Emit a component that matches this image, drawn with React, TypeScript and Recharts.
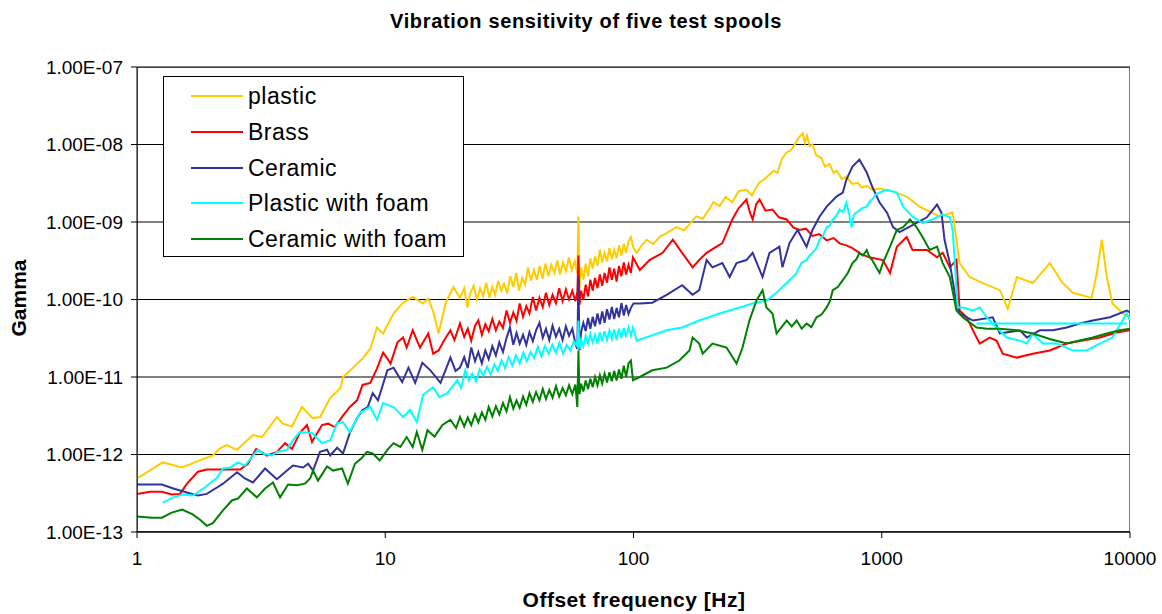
import { CartesianGrid, Line, LineChart, XAxis, YAxis } from "recharts";

// [frequency Hz, gamma]
const plastic: [number, number][] = [
  [1, 4.9e-13], [1.27, 7.9e-13], [1.52, 6.8e-13], [1.79, 8.4e-13], [2.02, 9.7e-13], [2.16, 1.2e-12],
  [2.3, 1.32e-12], [2.53, 1.15e-12], [2.93, 1.78e-12], [3.19, 1.68e-12], [3.66, 3.05e-12], [3.87, 2.5e-12],
  [4.21, 2.3e-12], [4.62, 4.1e-12], [5.1, 2.95e-12], [5.46, 3.05e-12], [6.0, 5.35e-12], [6.6, 7.2e-12],
  [6.76, 1.0e-11], [7.2, 1.2e-11], [8.1, 1.73e-11], [8.7, 2.3e-11], [9.26, 4.35e-11], [9.8, 3.64e-11],
  [10.8, 6.6e-11], [11.8, 9.1e-11], [12.9, 1.08e-10], [14.2, 8.9e-11], [14.9, 1.03e-10], [15.6, 7e-11],
  [16.4, 3.64e-11], [17.5, 9e-11], [18.8, 1.45e-10], [20, 1.05e-10], [20.8, 1.4e-10], [21.4, 7.9e-11],
  [22, 1.2e-10], [22.7, 1.5e-10], [23.4, 1.0e-10], [24.1, 1.4e-10], [24.8, 1.1e-10], [25.5, 1.65e-10],
  [26.3, 1.05e-10], [27, 1.45e-10], [27.7, 1.15e-10], [28.5, 1.75e-10], [29.3, 1.3e-10], [30.1, 1.6e-10],
  [31, 1.2e-10], [31.9, 2.0e-10], [32.8, 1.45e-10], [33.7, 2.2e-10], [34.6, 1.3e-10], [35.6, 1.9e-10],
  [36.6, 1.55e-10], [37.6, 2.6e-10], [38.6, 1.75e-10], [39.7, 2.4e-10], [40.8, 1.8e-10], [41.9, 2.7e-10],
  [43, 1.85e-10], [44.2, 2.9e-10], [45.4, 2.0e-10], [46.7, 2.8e-10], [48, 2.2e-10], [49.3, 3.2e-10],
  [50.6, 2.1e-10], [52, 3.0e-10], [53.4, 2.3e-10], [54.9, 3.5e-10], [56.4, 2.4e-10], [58, 3.1e-10],
  [59.4, 2.2e-10], [60, 1.18e-9], [60.6, 1.4e-10], [61.5, 2.6e-10], [62.8, 1.8e-10], [64.2, 2.9e-10],
  [65.6, 2.0e-10], [67, 3.4e-10], [68.5, 2.5e-10], [70, 3.6e-10], [71.6, 2.7e-10], [73.2, 4.4e-10],
  [74.8, 3.0e-10], [76.5, 4.0e-10], [78.2, 3.1e-10], [80, 4.6e-10], [81.8, 3.3e-10], [83.6, 4.4e-10],
  [85.5, 3.4e-10], [87.4, 5.0e-10], [89.4, 3.7e-10], [91.4, 5.2e-10], [93.4, 4.0e-10], [95.5, 5.6e-10],
  [97.6, 6.4e-10], [100, 4.6e-10], [103, 4.0e-10], [108, 5.0e-10], [113, 5.9e-10], [120, 5.2e-10],
  [128, 6.5e-10], [136, 7.2e-10], [149, 8.6e-10], [160, 7.8e-10], [179, 1.18e-9], [190, 1.1e-9],
  [200, 1.4e-9], [210, 1.8e-9], [222, 1.6e-9], [235, 2.1e-9], [250, 1.8e-9], [265, 2.5e-9],
  [285, 2.6e-9], [300, 2.2e-9], [320, 3.2e-9], [338, 3.6e-9], [353, 4.1e-9], [368, 4.6e-9],
  [380, 4.3e-9], [396, 6.5e-9], [414, 7.9e-9], [432, 8.5e-9], [450, 1.05e-8], [465, 1.25e-8],
  [480, 1.4e-8], [490, 1.05e-8], [500, 1.3e-8], [513, 9.5e-9], [526, 1.0e-8], [545, 7.2e-9],
  [570, 6.8e-9], [590, 5.2e-9], [616, 5.6e-9], [640, 4.3e-9], [660, 4.6e-9], [690, 3.6e-9],
  [720, 3.8e-9], [760, 3.1e-9], [800, 3.2e-9], [830, 2.8e-9], [870, 2.9e-9], [920, 2.6e-9],
  [980, 2.7e-9], [1100, 2.5e-9], [1260, 2.13e-9], [1420, 1.58e-9], [1710, 1.18e-9], [1930, 1.32e-9],
  [2060, 2.95e-10], [2260, 1.95e-10], [2550, 1.63e-10], [2990, 1.32e-10], [3220, 7.6e-11], [3500, 1.95e-10],
  [4060, 1.63e-10], [4750, 2.95e-10], [5360, 1.63e-10], [5890, 1.22e-10], [7000, 1.05e-10], [7350, 2.2e-10],
  [7700, 5.9e-10], [8060, 1.95e-10], [8500, 8.9e-11], [9350, 6.6e-11], [10000, 5.9e-11],
];

const brass: [number, number][] = [
  [1, 3.1e-13], [1.13, 3.3e-13], [1.26, 3.3e-13], [1.38, 3.05e-13], [1.49, 3.1e-13], [1.59, 4.2e-13],
  [1.76, 6.0e-13], [1.91, 6.4e-13], [2.6, 6.4e-13], [2.8, 7.6e-13], [3.02, 1.18e-12], [3.34, 9.7e-13],
  [3.66, 1.08e-12], [3.95, 1.4e-12], [4.21, 1.18e-12], [4.53, 1.9e-12], [4.84, 2.4e-12], [5.07, 1.45e-12],
  [5.56, 2.4e-12], [5.88, 2.5e-12], [6.27, 2.26e-12], [6.7, 3.05e-12], [7.2, 4.1e-12], [7.7, 5.0e-12],
  [8.1, 7.9e-12], [8.7, 8.4e-12], [9.26, 1.28e-11], [9.8, 2.06e-11], [10.2, 1.73e-11], [10.5, 1.49e-11],
  [11.2, 2.8e-11], [11.8, 3.23e-11], [12.2, 2.4e-11], [12.9, 4.0e-11], [13.8, 2.4e-11], [14.9, 3.64e-11],
  [15.6, 2.0e-11], [16.4, 2.2e-11], [17.3, 3.0e-11], [18.3, 4.0e-11], [19, 3.0e-11], [20, 4.9e-11],
  [20.8, 3.3e-11], [21.5, 4.2e-11], [22.2, 2.95e-11], [23, 4.6e-11], [23.7, 5.4e-11], [24.5, 3.5e-11],
  [25.3, 4.8e-11], [26.1, 3.9e-11], [27, 5.6e-11], [27.9, 4.0e-11], [28.8, 5.2e-11], [29.8, 4.3e-11],
  [30.8, 7.2e-11], [31.8, 5.0e-11], [32.8, 6.8e-11], [33.8, 5.3e-11], [34.8, 8.9e-11], [35.9, 6.0e-11],
  [37, 8.2e-11], [38.1, 6.6e-11], [39.3, 1.08e-10], [40.5, 7.2e-11], [41.8, 1.05e-10], [43.1, 8.0e-11],
  [44.4, 1.22e-10], [45.8, 8.5e-11], [47.2, 1.15e-10], [48.7, 9.0e-11], [50.2, 1.4e-10], [51.8, 9.5e-11],
  [53.4, 1.35e-10], [55, 1.0e-10], [56.7, 1.3e-10], [58.3, 9.5e-11], [59.4, 1.25e-10], [60, 3.7e-10],
  [60.6, 8.5e-11], [61.5, 1.3e-10], [62.8, 1.0e-10], [64.2, 1.55e-10], [65.6, 1.1e-10], [67, 1.8e-10],
  [68.5, 1.3e-10], [70, 1.9e-10], [71.6, 1.4e-10], [73.2, 2.1e-10], [74.8, 1.5e-10], [76.5, 2.2e-10],
  [78.2, 1.65e-10], [80, 2.6e-10], [81.8, 1.8e-10], [83.6, 2.5e-10], [85.5, 1.7e-10], [87.4, 2.7e-10],
  [89.4, 2.0e-10], [91.4, 3.0e-10], [93.4, 2.1e-10], [95.5, 2.8e-10], [97.6, 2.2e-10], [99.5, 3.5e-10],
  [106, 2.4e-10], [116, 3.23e-10], [131, 4.0e-10], [144, 5.9e-10], [157, 4.0e-10], [173, 2.6e-10],
  [184, 3.23e-10], [197, 4.0e-10], [216, 4.8e-10], [228, 5.35e-10], [250, 1.08e-9], [265, 1.5e-9],
  [285, 1.95e-9], [295, 1.3e-9], [302, 1.08e-9], [312, 1.7e-9], [322, 1.95e-9], [340, 1.4e-9],
  [363, 1.45e-9], [385, 1.15e-9], [414, 1.08e-9], [440, 8.5e-10], [466, 7.9e-10], [495, 8.2e-10],
  [526, 6.6e-10], [560, 7.0e-10], [600, 5.8e-10], [640, 6.2e-10], [676, 5.3e-10], [720, 5.0e-10],
  [762, 4.6e-10], [820, 3.9e-10], [890, 3.5e-10], [1010, 3.23e-10], [1080, 2.2e-10], [1150, 4.8e-10],
  [1260, 6.4e-10], [1330, 4.35e-10], [1520, 4.35e-10], [1670, 3.5e-10], [1760, 4.0e-10], [1880, 2.6e-10],
  [2000, 3.23e-10], [2060, 7.2e-11], [2200, 5.9e-11], [2330, 4.0e-11], [2480, 2.7e-11], [2720, 3.23e-11],
  [2900, 2.95e-11], [3070, 2.0e-11], [3500, 1.78e-11], [4060, 2.0e-11], [4750, 2.2e-11], [5560, 2.7e-11],
  [6450, 2.95e-11], [7560, 3.23e-11], [8840, 3.75e-11], [10000, 4.0e-11],
];

const ceramic: [number, number][] = [
  [1, 4.1e-13], [1.26, 4.1e-13], [1.4, 3.64e-13], [1.59, 3.23e-13], [1.76, 2.95e-13], [1.91, 3.1e-13],
  [2.1, 3.75e-13], [2.22, 4.2e-13], [2.53, 5.9e-13], [2.72, 4.9e-13], [2.93, 4.35e-13], [3.28, 6.6e-13],
  [3.66, 4.8e-13], [4.02, 6.2e-13], [4.25, 7.2e-13], [4.67, 6.8e-13], [4.89, 7.6e-13], [5.12, 6.2e-13],
  [5.46, 1.08e-12], [5.83, 1.15e-12], [6.0, 9.7e-13], [6.4, 1.22e-12], [6.76, 1.03e-12], [7.2, 1.9e-12],
  [7.7, 2.95e-12], [8.1, 3.75e-12], [8.5, 4.1e-12], [8.9, 6.2e-12], [9.35, 5.0e-12], [10.2, 1.22e-11],
  [10.8, 1.32e-11], [11.7, 8.6e-12], [12.4, 1.32e-11], [13.2, 8.4e-12], [14.1, 1.53e-11], [15.2, 1.22e-11],
  [16.7, 8.4e-12], [18.3, 1.78e-11], [19.2, 1.2e-11], [20, 1.32e-11], [20.8, 1.8e-11], [21.5, 1.3e-11],
  [22.2, 2.4e-11], [23, 1.6e-11], [23.7, 2.1e-11], [24.5, 1.5e-11], [25.3, 2.2e-11], [26.1, 1.7e-11],
  [27, 2.5e-11], [27.9, 1.9e-11], [28.8, 2.8e-11], [29.8, 2.1e-11], [30.8, 3.2e-11], [31.8, 4.35e-11],
  [32.8, 2.6e-11], [33.8, 3.7e-11], [34.8, 2.7e-11], [35.9, 3.5e-11], [37, 2.6e-11], [38.1, 3.8e-11],
  [39.3, 2.9e-11], [40.5, 4.0e-11], [41.8, 5.0e-11], [43.1, 3.2e-11], [44.4, 4.2e-11], [45.8, 3.0e-11],
  [47.2, 4.6e-11], [48.7, 3.3e-11], [50.2, 4.2e-11], [51.8, 3.0e-11], [53.4, 4.5e-11], [55, 3.4e-11],
  [56.7, 4.2e-11], [58.3, 2.7e-11], [59.4, 2.3e-11], [60, 1.95e-10], [60.6, 2.2e-11], [61.5, 3.8e-11],
  [62.8, 5.0e-11], [64.2, 3.9e-11], [65.6, 5.8e-11], [67, 4.2e-11], [68.5, 6.0e-11], [70, 4.5e-11],
  [71.6, 6.6e-11], [73.2, 4.8e-11], [74.8, 7.0e-11], [76.5, 5.0e-11], [78.2, 7.5e-11], [80, 5.5e-11],
  [81.8, 8.0e-11], [83.6, 5.6e-11], [85.5, 7.8e-11], [87.4, 5.9e-11], [89.4, 9.0e-11], [91.4, 6.2e-11],
  [93.4, 8.5e-11], [95.5, 6.5e-11], [97.6, 7.8e-11], [100, 8.9e-11], [106, 8.9e-11], [119, 9.1e-11],
  [136, 1.15e-10], [157, 1.53e-10], [173, 1.15e-10], [184, 1.32e-10], [197, 3.23e-10], [208, 2.6e-10],
  [228, 2.95e-10], [244, 1.95e-10], [260, 2.95e-10], [285, 3.23e-10], [302, 4.0e-10], [331, 1.95e-10],
  [353, 4.0e-10], [387, 4.8e-10], [398, 2.6e-10], [425, 5.35e-10], [458, 7.9e-10], [498, 4.8e-10],
  [526, 7.9e-10], [562, 1.18e-9], [600, 1.58e-9], [657, 2.13e-9], [697, 2.4e-9], [720, 3.5e-9],
  [762, 5.2e-9], [813, 6.4e-9], [870, 4.35e-9], [915, 2.87e-9], [980, 1.78e-9], [1050, 1.32e-9],
  [1110, 8.6e-10], [1180, 7.4e-10], [1330, 9.1e-10], [1520, 1.15e-9], [1670, 1.68e-9], [1740, 1.32e-9],
  [1790, 5.9e-10], [1880, 2.95e-10], [2000, 8.9e-11], [2060, 6.6e-11], [2330, 5.35e-11], [2800, 5.9e-11],
  [2990, 3.64e-11], [3600, 4.0e-11], [3840, 3.23e-11], [4330, 4.0e-11], [4890, 4.0e-11], [5560, 4.35e-11],
  [6270, 4.9e-11], [7080, 5.35e-11], [8300, 5.9e-11], [9700, 7.2e-11], [10000, 6.8e-11],
];

const plasticFoam: [number, number][] = [
  [1.27, 2.4e-13], [1.4, 2.8e-13], [1.53, 3.05e-13], [1.68, 2.95e-13], [1.85, 3.64e-13], [2.1, 5.0e-13],
  [2.22, 6.6e-13], [2.37, 6.8e-13], [2.55, 7.9e-13], [2.72, 7.2e-13], [3.07, 1.15e-12], [3.22, 1.03e-12],
  [3.5, 9.7e-13], [3.66, 1.08e-12], [4.02, 1.15e-12], [4.25, 1.53e-12], [4.53, 1.95e-12], [5.07, 1.9e-12],
  [5.56, 1.4e-12], [6.0, 1.53e-12], [6.4, 2.55e-12], [6.76, 2.6e-12], [7.2, 1.95e-12], [7.9, 3.43e-12],
  [8.7, 4.1e-12], [9.26, 2.8e-12], [9.8, 4.6e-12], [10.8, 4.1e-12], [11.8, 3.05e-12], [12.6, 3.75e-12],
  [13.4, 2.6e-12], [14.2, 5.9e-12], [15.6, 7.4e-12], [16.5, 5.5e-12], [17.8, 6.2e-12], [19.5, 9.1e-12],
  [20.2, 7.2e-12], [21, 1.22e-11], [21.7, 9.0e-12], [22.4, 1.1e-11], [23.2, 8.8e-12], [24, 1.25e-11],
  [24.8, 1.05e-11], [25.7, 1.35e-11], [26.6, 1.08e-11], [27.5, 1.45e-11], [28.4, 1.2e-11], [29.4, 1.65e-11],
  [30.4, 1.3e-11], [31.4, 1.8e-11], [32.5, 1.4e-11], [33.6, 1.9e-11], [34.8, 1.5e-11], [36, 2.05e-11],
  [37.2, 1.6e-11], [38.5, 2.1e-11], [39.8, 1.75e-11], [41.2, 2.45e-11], [42.6, 1.85e-11], [44, 2.5e-11],
  [45.5, 2.0e-11], [47.1, 2.6e-11], [48.7, 2.05e-11], [50.3, 2.75e-11], [52, 2.0e-11], [53.8, 2.6e-11],
  [55.6, 2.2e-11], [57.5, 2.9e-11], [59.4, 2.5e-11], [60, 5.35e-11], [60.6, 2.3e-11], [61.5, 3.0e-11],
  [62.8, 2.5e-11], [64.2, 3.4e-11], [65.6, 2.7e-11], [67, 3.6e-11], [68.5, 2.8e-11], [70, 3.5e-11],
  [71.6, 2.7e-11], [73.2, 3.8e-11], [74.8, 2.9e-11], [76.5, 3.9e-11], [78.2, 3.0e-11], [80, 4.0e-11],
  [81.8, 3.1e-11], [83.6, 4.1e-11], [85.5, 3.0e-11], [87.4, 4.2e-11], [89.4, 3.2e-11], [91.4, 4.3e-11],
  [93.4, 3.3e-11], [95.5, 4.4e-11], [97.6, 3.4e-11], [99.5, 4.35e-11], [103, 2.95e-11], [136, 4.0e-11],
  [157, 4.35e-11], [184, 5.35e-11], [222, 6.6e-11], [268, 7.9e-11], [302, 8.9e-11], [343, 9.7e-11],
  [377, 1.22e-10], [414, 1.63e-10], [434, 1.9e-10], [454, 2.2e-10], [476, 3.0e-10], [498, 3.23e-10],
  [512, 3.7e-10], [526, 4.0e-10], [545, 4.6e-10], [562, 5.9e-10], [580, 6.6e-10], [600, 8.6e-10],
  [618, 9.0e-10], [635, 1.08e-9], [655, 1.2e-9], [676, 1.45e-9], [700, 1.35e-9], [720, 1.78e-9],
  [738, 1.3e-9], [755, 8.6e-10], [772, 1.25e-9], [790, 1.32e-9], [830, 1.5e-9], [870, 1.58e-9],
  [900, 1.9e-9], [915, 1.95e-9], [950, 2.3e-9], [980, 2.4e-9], [1050, 2.6e-9], [1150, 2.4e-9],
  [1220, 1.58e-9], [1330, 1.18e-9], [1460, 9.7e-10], [1600, 1.08e-9], [1760, 1.25e-9], [1880, 1.15e-9],
  [1930, 7.9e-10], [1970, 2.95e-10], [2020, 7.9e-11], [2120, 7.9e-11], [2330, 7.2e-11], [2480, 7.9e-11],
  [2650, 5.9e-11], [2900, 4.35e-11], [3190, 3.23e-11], [3600, 2.95e-11], [3840, 2.7e-11], [4060, 3.64e-11],
  [4450, 2.7e-11], [5070, 2.7e-11], [5880, 2.2e-11], [6700, 2.2e-11], [7560, 2.7e-11], [8500, 3.23e-11],
  [9700, 6.6e-11], [10000, 5.35e-11],
];

// straight cyan segment that closes the plastic-with-foam trace
const plasticFoamTail: [number, number][] = [[2410, 4.9e-11], [9700, 4.9e-11]];

const ceramicFoam: [number, number][] = [
  [1, 1.58e-13], [1.15, 1.53e-13], [1.26, 1.53e-13], [1.38, 1.78e-13], [1.52, 1.95e-13], [1.67, 1.7e-13],
  [1.79, 1.45e-13], [1.91, 1.2e-13], [2.02, 1.3e-13], [2.22, 1.9e-13], [2.41, 2.55e-13], [2.55, 2.7e-13],
  [2.77, 3.64e-13], [3.04, 2.8e-13], [3.28, 3.64e-13], [3.53, 4.35e-13], [3.77, 2.8e-13], [4.06, 4.1e-13],
  [4.41, 4.0e-13], [4.75, 4.2e-13], [4.98, 4.9e-13], [5.12, 6.2e-13], [5.36, 4.6e-13], [5.83, 7.0e-13],
  [6.16, 6.2e-13], [6.7, 6.6e-13], [7.07, 4.2e-13], [7.55, 7.6e-13], [8.06, 9.1e-13], [8.44, 1.08e-12],
  [8.9, 1.03e-12], [9.5, 8.4e-13], [10.2, 1.15e-12], [10.8, 1.4e-12], [11.5, 1.25e-12], [12.2, 1.68e-12],
  [12.9, 1.25e-12], [13.4, 1.95e-12], [14.1, 1.15e-12], [14.8, 2.06e-12], [15.8, 1.7e-12], [17, 2.4e-12],
  [18.3, 2.8e-12], [19.3, 2.2e-12], [20, 3.05e-12], [20.8, 2.3e-12], [21.5, 3.0e-12], [22.2, 2.4e-12],
  [23, 3.3e-12], [23.7, 2.6e-12], [24.5, 3.5e-12], [25.3, 2.8e-12], [26.1, 4.1e-12], [27, 3.1e-12],
  [27.9, 4.2e-12], [28.8, 3.3e-12], [29.8, 4.6e-12], [30.8, 3.6e-12], [31.8, 5.5e-12], [32.8, 3.9e-12],
  [33.8, 5.0e-12], [34.8, 4.0e-12], [35.9, 5.6e-12], [37, 4.4e-12], [38.1, 6.2e-12], [39.3, 4.8e-12],
  [40.5, 6.4e-12], [41.8, 5.0e-12], [43.1, 7.0e-12], [44.4, 5.2e-12], [45.8, 6.8e-12], [47.2, 5.4e-12],
  [48.7, 7.6e-12], [50.2, 5.6e-12], [51.8, 7.2e-12], [53.4, 5.8e-12], [55, 7.8e-12], [56.7, 6.0e-12],
  [58.3, 8.0e-12], [59.4, 4.1e-12], [60, 2.2e-11], [60.6, 6.0e-12], [61.5, 8.2e-12], [62.8, 6.5e-12],
  [64.2, 9.0e-12], [65.6, 7.0e-12], [67, 9.5e-12], [68.5, 7.4e-12], [70, 1.0e-11], [71.6, 7.8e-12],
  [73.2, 1.05e-11], [74.8, 8.2e-12], [76.5, 1.1e-11], [78.2, 8.5e-12], [80, 1.15e-11], [81.8, 8.8e-12],
  [83.6, 1.2e-11], [85.5, 9.0e-12], [87.4, 1.25e-11], [89.4, 9.5e-12], [91.4, 1.4e-11], [93.4, 1.0e-11],
  [95.5, 1.5e-11], [97.6, 1.63e-11], [99.5, 9.1e-12], [106, 1.0e-11], [119, 1.22e-11], [136, 1.32e-11],
  [153, 1.63e-11], [168, 2.2e-11], [173, 3.23e-11], [184, 2.7e-11], [190, 2.0e-11], [208, 2.7e-11],
  [237, 2.4e-11], [260, 1.49e-11], [275, 2.4e-11], [293, 5.35e-11], [313, 9.7e-11], [331, 1.32e-10],
  [343, 7.9e-11], [363, 6.6e-11], [377, 3.64e-11], [414, 5.35e-11], [434, 4.5e-11], [454, 5.35e-11],
  [476, 4.2e-11], [498, 4.9e-11], [520, 4.4e-11], [546, 5.9e-11], [572, 6.4e-11], [600, 7.9e-11],
  [618, 9.5e-11], [635, 1.32e-10], [665, 1.45e-10], [697, 1.78e-10], [730, 2.2e-10], [762, 2.95e-10],
  [790, 3.3e-10], [813, 4.0e-10], [840, 3.7e-10], [870, 4.35e-10], [890, 3.6e-10], [915, 3.23e-10],
  [950, 2.6e-10], [980, 2.2e-10], [1010, 2.95e-10], [1080, 4.8e-10], [1150, 7.9e-10], [1220, 8.6e-10],
  [1300, 1.08e-9], [1380, 8.6e-10], [1460, 6.4e-10], [1560, 4.35e-10], [1670, 4.8e-10], [1760, 2.95e-10],
  [1880, 1.95e-10], [2000, 7.2e-11], [2120, 5.9e-11], [2410, 4.35e-11], [2650, 4.2e-11], [2990, 4.2e-11],
  [3500, 4.0e-11], [4060, 3.64e-11], [4750, 3.1e-11], [5560, 2.7e-11], [6270, 2.95e-11], [7080, 3.23e-11],
  [8060, 3.64e-11], [9100, 4.0e-11], [10000, 4.2e-11],
];

const xTicks = [1, 10, 100, 1000, 10000];
const yTicks = [1e-13, 1e-12, 1e-11, 1e-10, 1e-9, 1e-8, 1e-7];

const series = [
  { name: "plastic", data: plastic, color: "#FFCC00" },
  { name: "Brass", data: brass, color: "#FF0000" },
  { name: "Ceramic", data: ceramic, color: "#333399" },
  { name: "Plastic with foam", data: plasticFoam, color: "#00FFFF" },
  { name: "Ceramic with foam", data: ceramicFoam, color: "#008000" },
];

const FONT = "'Liberation Sans', Arial, sans-serif";

const toPts = (arr: [number, number][]) => arr.map(([f, g]) => ({ f, g }));

function fmtSci(v: number) {
  const exp = Math.round(Math.log10(v));
  const sign = exp < 0 ? "-" : "+";
  return `1.00E${sign}${String(Math.abs(exp)).padStart(2, "0")}`;
}

function Legend() {
  return (
    <div
      style={{
        position: "absolute",
        left: 163,
        top: 76,
        width: 299,
        height: 179,
        border: "1px solid #000",
        background: "#fff",
        fontFamily: FONT,
        fontSize: 23,
        letterSpacing: 0.5,
      }}
    >
      {series.map((s, i) => (
        <div
          key={s.name}
          style={{
            position: "absolute",
            left: 0,
            top: 19 + i * 35.8 - 13,
            height: 26,
            display: "flex",
            alignItems: "center",
          }}
        >
          <div style={{ marginLeft: 27, width: 52, height: 2, background: s.color }} />
          <span style={{ marginLeft: 5, lineHeight: "26px", whiteSpace: "nowrap" }}>{s.name}</span>
        </div>
      ))}
    </div>
  );
}

export default function App() {
  return (
    <div style={{ position: "absolute", left: 0, top: 0, width: 1162, height: 614, background: "#fff" }}>
      <div
        style={{
          position: "absolute",
          left: 137,
          top: 67,
          width: 993,
          height: 465,
          boxSizing: "border-box",
          border: "1px solid #808080",
        }}
      />
      <div style={{ position: "absolute", left: 0, top: 0 }}>
        <LineChart width={1162} height={614} margin={{ top: 67, right: 32, bottom: 52, left: 0 }}>
          <CartesianGrid vertical={false} stroke="#000" strokeWidth={1} />
          <XAxis
            type="number"
            dataKey="f"
            scale="log"
            domain={[1, 10000]}
            ticks={xTicks}
            allowDataOverflow
            height={30}
            tickSize={6}
            tickMargin={14}
            stroke="#000"
            tick={{ fill: "#000", fontSize: 19, fontFamily: FONT }}
          />
          <YAxis
            type="number"
            dataKey="g"
            scale="log"
            domain={[1e-13, 1e-7]}
            ticks={yTicks}
            allowDataOverflow
            width={137}
            tickSize={6}
            tickMargin={8}
            stroke="#000"
            tickFormatter={fmtSci}
            tick={{ fill: "#000", fontSize: 19, fontFamily: FONT }}
          />
          {series.map((s) => (
            <Line
              key={s.name}
              data={toPts(s.data)}
              dataKey="g"
              type="linear"
              stroke={s.color}
              strokeWidth={2}
              dot={false}
              isAnimationActive={false}
            />
          ))}
          <Line
            data={toPts(plasticFoamTail)}
            dataKey="g"
            type="linear"
            stroke="#00FFFF"
            strokeWidth={2}
            dot={false}
            isAnimationActive={false}
          />
        </LineChart>
      </div>
      <svg
        width={1162}
        height={614}
        style={{ position: "absolute", left: 0, top: 0, pointerEvents: "none" }}
        fontFamily={FONT}
        fontWeight="bold"
      >
        <text x={586} y={28} textAnchor="middle" fontSize={20} letterSpacing={0.65}>
          Vibration sensitivity of five test spools
        </text>
        <text x={26} y={298} textAnchor="middle" fontSize={21} transform="rotate(-90 26 298)">
          Gamma
        </text>
        <text x={634} y={607} textAnchor="middle" fontSize={21} letterSpacing={0.5}>
          Offset frequency [Hz]
        </text>
      </svg>
      <Legend />
    </div>
  );
}
